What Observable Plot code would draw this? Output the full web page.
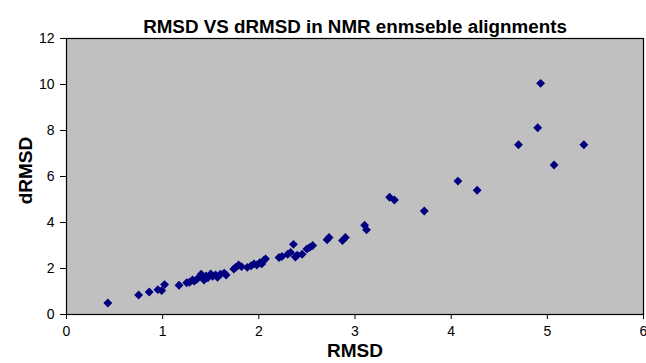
<!DOCTYPE html>
<html>
<head>
<meta charset="utf-8">
<script src="https://cdn.jsdelivr.net/npm/d3@7"></script>
<script src="https://cdn.jsdelivr.net/npm/@observablehq/plot@0.6"></script>
<style>
  html, body { margin: 0; padding: 0; background: #fff; }
  svg { display: block; }
</style>
</head>
<body>
<div id="chart"></div>
<script>
const title = "RMSD VS dRMSD in NMR enmseble alignments";
const xLabel = "RMSD";
const yLabel = "dRMSD";
const xTicks = [0, 1, 2, 3, 4, 5, 6];
const yTicks = [0, 2, 4, 6, 8, 10, 12];

const rmsd = [0.43, 0.75, 0.86, 0.95, 0.99, 1.02, 1.17, 1.25, 1.28, 1.31, 1.33, 1.36, 1.40, 1.41, 1.43, 1.45, 1.47, 1.50, 1.52, 1.55, 1.57, 1.60, 1.64, 1.66, 1.74, 1.76, 1.79, 1.82, 1.88, 1.92, 1.95, 1.98, 2.01, 2.03, 2.05, 2.07, 2.21, 2.24, 2.30, 2.33, 2.36, 2.38, 2.40, 2.45, 2.50, 2.53, 2.56, 2.71, 2.73, 2.87, 2.90, 3.10, 3.12, 3.36, 3.41, 3.72, 4.07, 4.27, 4.70, 4.90, 4.93, 5.07, 5.38];
const drmsd = [0.50, 0.85, 0.98, 1.08, 1.04, 1.30, 1.27, 1.38, 1.40, 1.50, 1.45, 1.55, 1.75, 1.62, 1.50, 1.68, 1.60, 1.76, 1.66, 1.72, 1.62, 1.75, 1.80, 1.72, 1.98, 2.05, 2.15, 2.08, 2.05, 2.12, 2.20, 2.15, 2.25, 2.20, 2.35, 2.42, 2.48, 2.52, 2.62, 2.70, 3.05, 2.50, 2.58, 2.62, 2.85, 2.92, 3.00, 3.25, 3.35, 3.22, 3.35, 3.88, 3.68, 5.10, 4.98, 4.50, 5.80, 5.40, 7.38, 8.12, 10.05, 6.50, 7.38];

const data = rmsd.map((x, i) => ({x, y: drmsd[i]}));
const font = "'Liberation Sans', Arial, sans-serif";

const chart = Plot.plot({
  width: 646,
  height: 363,
  marginLeft: 66,
  marginRight: 3,
  marginTop: 38,
  marginBottom: 49,
  style: {fontFamily: font, fontSize: "14px", color: "#000", background: "#fff"},
  x: {domain: [0, 6]},
  y: {domain: [0, 12]},
  marks: [
    Plot.frame({fill: "#c0c0c0", stroke: "#000", strokeWidth: 1.2}),
    Plot.axisX({ticks: xTicks, tickFormat: "d", tickSize: 5, tickPadding: 7, fontSize: 14, label: null}),
    Plot.axisY({ticks: yTicks, tickFormat: "d", tickSize: 6, tickPadding: 6, fontSize: 14, label: null}),
    Plot.dot(data, {x: "x", y: "y", symbol: "diamond2", r: 4, fill: "#000080", stroke: null}),
    Plot.text([title], {frameAnchor: "top", dy: -19, fontWeight: "bold", fontSize: 18.8, text: d => d}),
    Plot.text([xLabel], {frameAnchor: "bottom", dy: 42, fontWeight: "bold", fontSize: 19, text: d => d}),
    Plot.text([yLabel], {frameAnchor: "left", textAnchor: "middle", dx: -41, dy: -6, rotate: -90, fontWeight: "bold", fontSize: 19, text: d => d})
  ]
});
document.getElementById("chart").appendChild(chart);
</script>
</body>
</html>
